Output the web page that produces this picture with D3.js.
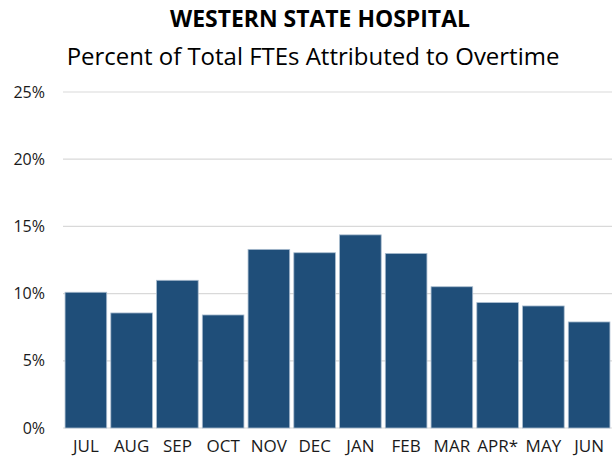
<!DOCTYPE html>
<html>
<head>
<meta charset="utf-8">
<script src="https://cdn.jsdelivr.net/npm/d3@7"></script>
<style>
  html, body { margin: 0; padding: 0; background: #fff; }
  svg { display: block; font-family: "Open Sans", sans-serif; }
</style>
</head>
<body>
<svg id="chart" width="613" height="460"></svg>
<script>
const meses = ["JUL", "AUG", "SEP", "OCT", "NOV", "DEC", "JAN", "FEB", "MAR", "APR*", "MAY", "JUN"];
const pctOvertime = [10.1, 8.56, 10.99, 8.41, 13.29, 13.04, 14.37, 12.99, 10.51, 9.33, 9.08, 7.89];
const ticksY = [0, 5, 10, 15, 20, 25];

const titulo = "WESTERN STATE HOSPITAL";
const subtitulo = "Percent of Total FTEs Attributed to Overtime";

const svg = d3.select("#chart");
const margin = { top: 92, right: 1, bottom: 32, left: 63 };
const width = 613, height = 460;

const x = d3.scaleBand()
  .domain(meses)
  .range([margin.left, width - margin.right])
  .paddingInner(0.09)
  .paddingOuter(0.045);

const y = d3.scaleLinear()
  .domain([0, 25])
  .range([height - margin.bottom, margin.top]);

// Lineas de cuadricula
svg.append("g")
  .selectAll("line")
  .data(ticksY)
  .join("line")
  .attr("x1", margin.left)
  .attr("x2", width - margin.right)
  .attr("y1", (d) => y(d))
  .attr("y2", (d) => y(d))
  .attr("stroke", "#d9d9d9")
  .attr("stroke-width", 1.2);

// Eje Y
const ejeY = svg.append("g")
  .attr("transform", `translate(${margin.left},0)`)
  .call(d3.axisLeft(y).tickValues(ticksY).tickFormat((d) => d + "%").tickSize(0).tickPadding(18));
ejeY.select(".domain").remove();
ejeY.selectAll("text")
  .attr("font-family", "Open Sans")
  .attr("font-size", 16)
  .attr("fill", "#1a1a1a");

// Barras
svg.append("g")
  .selectAll("rect")
  .data(pctOvertime)
  .join("rect")
  .attr("x", (d, i) => x(meses[i]))
  .attr("y", (d) => y(d))
  .attr("width", x.bandwidth())
  .attr("height", (d) => y(0) - y(d))
  .attr("fill", "#1f4e79")
  .attr("stroke", "#a9bccf")
  .attr("stroke-width", 0.8);

// Eje X
const ejeX = svg.append("g")
  .attr("transform", `translate(0,${y(0)})`)
  .call(d3.axisBottom(x).tickSize(0).tickPadding(12));
ejeX.select(".domain").remove();
ejeX.selectAll("text")
  .attr("font-family", "Open Sans")
  .attr("font-size", 17)
  .attr("fill", "#1a1a1a");

// Titulos
function ajustar(sel, ancho) {
  const w = sel.node().getComputedTextLength();
  const fs = parseFloat(sel.attr("font-size"));
  sel.attr("font-size", fs * ancho / w);
}

const t1 = svg.append("text")
  .attr("x", 320)
  .attr("y", 27)
  .attr("text-anchor", "middle")
  .attr("font-weight", "bold")
  .attr("font-size", 20)
  .attr("fill", "#000")
  .text(titulo);
ajustar(t1, 300);

const t2 = svg.append("text")
  .attr("x", 313)
  .attr("y", 65)
  .attr("text-anchor", "middle")
  .attr("font-size", 20)
  .attr("fill", "#000")
  .text(subtitulo);
ajustar(t2, 493);
</script>
</body>
</html>
